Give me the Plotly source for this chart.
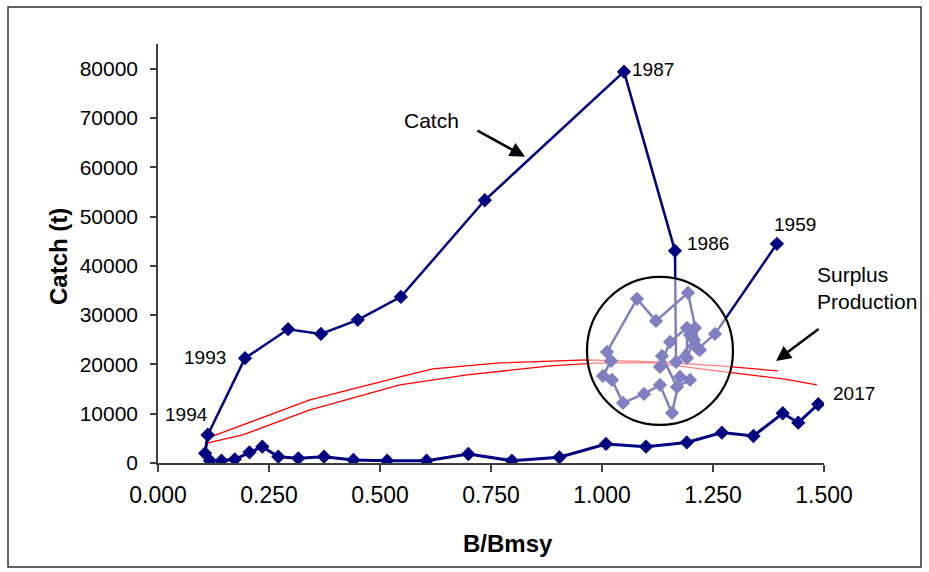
import plotly.graph_objects as go

# ---------------- data ----------------
years_early = list(range(1959, 1995))  # 1959..1994
bbmsy_early = [1.394, 1.2545, 1.2162, 1.2095, 1.1982, 1.2207, 1.1937, 1.1216, 1.0788, 1.0113,
               1.0203, 1.0023, 1.0225, 1.0473, 1.0946, 1.1306, 1.1577, 1.1757, 1.1982, 1.1689,
               1.1351, 1.1306, 1.1532, 1.1914, 1.1914, 1.2072, 1.1667, 1.1644, 1.0495, 0.736,
               0.547, 0.450, 0.367, 0.293, 0.196, 0.112]
catch_early = [44470, 26190, 23150, 27410, 25990, 22940, 34520, 28830, 33300, 22540,
               20710, 17670, 16850, 12180, 14010, 15840, 10150, 17460, 16850, 15430,
               21730, 19490, 24570, 27410, 21320, 24970, 20510, 43050, 79390, 53300,
               33700, 29040, 26190, 27140, 21260, 5690]

years_late = list(range(1994, 2018))  # 1994..2017
bbmsy_late = [0.112, 0.106, 0.117, 0.143, 0.173, 0.206, 0.235, 0.271, 0.316, 0.374,
              0.440, 0.516, 0.605, 0.699, 0.797, 0.904, 1.009, 1.099, 1.191, 1.270,
              1.341, 1.407, 1.442, 1.487]
catch_late = [5690, 1960, 470, 470, 750, 2170, 3310, 1280, 950, 1280,
              610, 470, 470, 1830, 470, 1160, 3860, 3310, 4170, 6160,
              5480, 10090, 8180, 11920]

sp1_x = [0.1126, 0.207, 0.342, 0.545, 0.619, 0.770, 0.966, 1.124, 1.266, 1.396]
sp1_y = [5080, 8260, 12790, 17460, 19090, 20300, 20910, 20510, 19700, 18680]
sp2_x = [0.1126, 0.191, 0.342, 0.545, 0.696, 0.883, 0.995, 1.115, 1.295, 1.408, 1.484]
sp2_y = [4060, 5690, 10760, 15840, 17870, 19700, 20300, 20300, 18270, 17060, 15840]

x_ticks = [0.0, 0.25, 0.5, 0.75, 1.0, 1.25, 1.5]
x_ticklabels = ["0.000", "0.250", "0.500", "0.750", "1.000", "1.250", "1.500"]
y_ticks = [0, 10000, 20000, 30000, 40000, 50000, 60000, 70000, 80000]

NAVY = "#000080"
FONT = "Liberation Sans, Arial, sans-serif"

fig = go.Figure()

fig.add_trace(go.Scatter(x=sp1_x, y=sp1_y, mode="lines",
                         line=dict(color="#ff0000", width=1.3), showlegend=False))
fig.add_trace(go.Scatter(x=sp2_x, y=sp2_y, mode="lines",
                         line=dict(color="#ff0000", width=1.3), showlegend=False))
fig.add_trace(go.Scatter(x=bbmsy_early, y=catch_early, mode="lines+markers", text=years_early,
                         line=dict(color=NAVY, width=2.5),
                         marker=dict(symbol="diamond", size=11, color=NAVY),
                         showlegend=False))
fig.add_trace(go.Scatter(x=bbmsy_late, y=catch_late, mode="lines+markers", text=years_late,
                         line=dict(color=NAVY, width=3),
                         marker=dict(symbol="diamond", size=11, color=NAVY),
                         showlegend=False))


def pt(series_x, series_y, years, yr):
    i = years.index(yr)
    return series_x[i], series_y[i]


ann = []
label_specs = [
    (1987, "left", 6, 2, "early"),
    (1986, "left", 10, 7, "early"),
    (1959, "left", -5, 19, "early"),
    (1993, "right", -17, 1, "early"),
    (1994, "right", 2, 20, "early"),
    (2017, "left", 13, 11, "late"),
]
for yr, anchor, xs, ys, which in label_specs:
    if which == "early":
        x, y = pt(bbmsy_early, catch_early, years_early, yr)
    else:
        x, y = pt(bbmsy_late, catch_late, years_late, yr)
    ann.append(dict(x=x, y=y, xref="x", yref="y", text=str(yr), showarrow=False,
                    xanchor=anchor, yanchor="middle", xshift=xs, yshift=ys,
                    font=dict(family=FONT, size=19, color="black")))

# Text labels with arrows
ann.append(dict(x=(431 - 158) / 666, y=(463 - 120) / 419, xref="paper", yref="paper",
                text="Catch", showarrow=False,
                xanchor="center", yanchor="middle", font=dict(family=FONT, size=21, color="black")))
ann.append(dict(x=0.8266, y=62130, xref="x", yref="y", text="", showarrow=True,
                ax=-49, ay=-27, arrowhead=2, arrowsize=1.2, arrowwidth=2.5, arrowcolor="black"))
ann.append(dict(x=(815 - 158) / 666, y=(463 - 288) / 419, xref="paper", yref="paper",
                text="Surplus<br>Production", showarrow=False, align="left",
                xanchor="left", yanchor="middle", font=dict(family=FONT, size=21, color="black")))
ann.append(dict(x=1.392, y=20710, xref="x", yref="y", text="", showarrow=True,
                ax=44, ay=-33, arrowhead=2, arrowsize=1.2, arrowwidth=2.5, arrowcolor="black"))

# Axis titles
ann.append(dict(x=(508 - 158) / 666, y=(463 - 543) / 419, xref="paper", yref="paper",
                text="<b>B/Bmsy</b>", showarrow=False, xanchor="center", yanchor="middle",
                font=dict(family=FONT, size=24, color="black")))
ann.append(dict(x=(58 - 158) / 666, y=(463 - 257) / 419, xref="paper", yref="paper",
                text="<b>Catch (t)</b>", showarrow=False, xanchor="center", yanchor="middle",
                textangle=-90, font=dict(family=FONT, size=24, color="black")))

shapes = [
    dict(type="circle", xref="x", yref="y", x0=0.9662, x1=1.295, y0=7716, y1=37770,
         line=dict(color="black", width=2.2), fillcolor="rgba(255,255,255,0.5)", layer="above"),
    dict(type="rect", xref="paper", yref="paper", x0=(8 - 158) / 666, x1=(921 - 158) / 666,
         y0=(463 - 567) / 419, y1=(463 - 7) / 419, line=dict(color="#303030", width=1.5),
         fillcolor="rgba(0,0,0,0)", layer="below"),
]

fig.update_layout(
    width=929, height=572,
    margin=dict(l=158, r=105, t=44, b=109),
    paper_bgcolor="white", plot_bgcolor="white",
    font=dict(family=FONT, color="black"),
    annotations=ann, shapes=shapes, showlegend=False,
)
fig.update_xaxes(range=[0, 1.5], tickvals=x_ticks, ticktext=x_ticklabels,
                 showgrid=False, zeroline=False, showline=True, linecolor="#404040", linewidth=1.5,
                 ticks="outside", ticklen=7, tickwidth=1.5, tickcolor="#404040",
                 tickfont=dict(family=FONT, size=23, color="black"), ticklabelstandoff=4)
fig.update_yaxes(range=[0, 85000], tickvals=y_ticks, tickformat="d",
                 showgrid=False, zeroline=False, showline=True, linecolor="#404040", linewidth=1.5,
                 ticks="outside", ticklen=6, tickwidth=1.5, tickcolor="#404040",
                 tickfont=dict(family=FONT, size=21, color="black"), ticklabelstandoff=8)

fig.write_html("out.html")
